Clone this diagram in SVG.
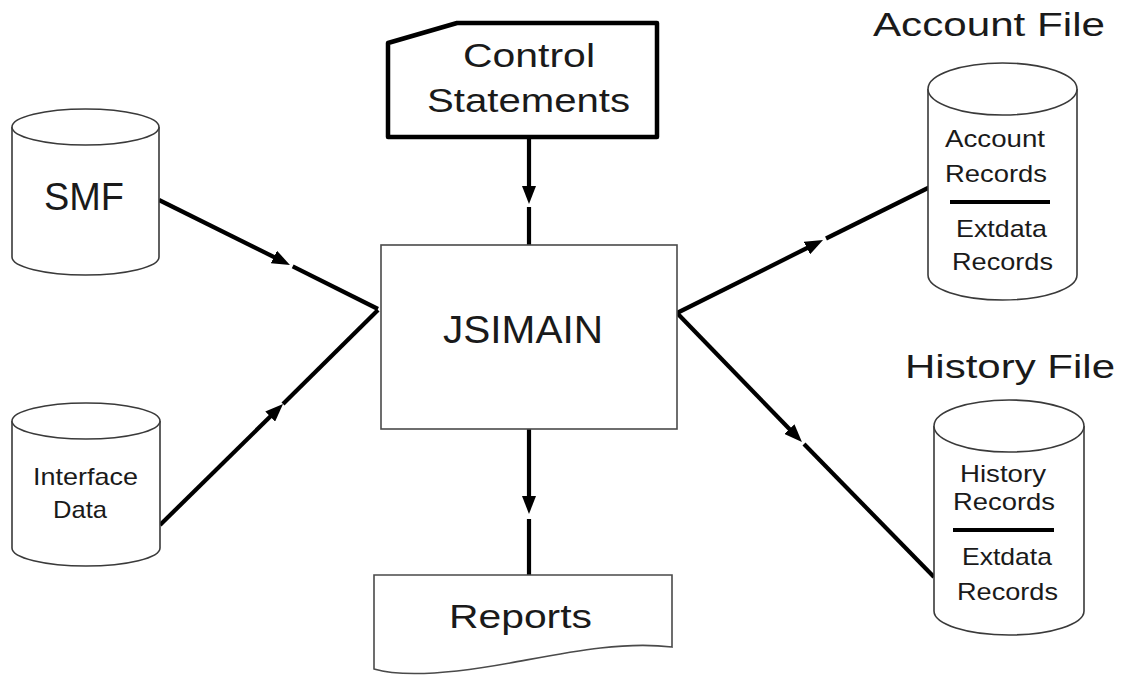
<svg xmlns="http://www.w3.org/2000/svg" width="1130" height="677" viewBox="0 0 1130 677">
  <defs>
    <style>
      .cyl { fill: #ffffff; stroke: #3a3a3a; stroke-width: 1.6; }
      .box { fill: #ffffff; stroke: #4a4a4a; stroke-width: 1.6; }
      .card { fill: #ffffff; stroke: #000000; stroke-width: 4.5; stroke-linejoin: round; }
      .conn { fill: none; stroke: #000000; stroke-width: 4.2; stroke-linecap: butt; }
      .rule { stroke: #000000; stroke-width: 4; }
      text { font-family: "Liberation Sans", Arial, sans-serif; fill: #1a1a1a; text-anchor: middle; }
      .big { font-size: 38px; }
      .mid { font-size: 34px; }
      .sm { font-size: 24px; }
    </style>
    <marker id="arrow" viewBox="0 0 18 14" markerWidth="18" markerHeight="14" refX="8" refY="7" markerUnits="userSpaceOnUse" orient="auto">
      <path d="M0,0 L18,7 L0,14 z" fill="#000000"/>
    </marker>
  </defs>

  <rect width="1130" height="677" fill="#ffffff"/>

  <!-- connectors: each is a lead line ending in an arrowhead, then a short gap and the tail into the target -->
  <g id="connectors">
    <!-- SMF -> JSIMAIN -->
    <line class="conn" x1="159" y1="200" x2="281" y2="260.5" marker-end="url(#arrow)"/>
    <line class="conn" x1="292.7" y1="266.3" x2="378" y2="309"/>
    <!-- Interface Data -> JSIMAIN -->
    <line class="conn" x1="160" y1="525" x2="275.9" y2="411" marker-end="url(#arrow)"/>
    <line class="conn" x1="283" y1="404" x2="378" y2="310"/>
    <!-- Control Statements -> JSIMAIN -->
    <line class="conn" x1="529" y1="137" x2="529" y2="194" marker-end="url(#arrow)"/>
    <line class="conn" x1="529" y1="207" x2="529" y2="245"/>
    <!-- JSIMAIN -> Reports -->
    <line class="conn" x1="529" y1="429" x2="529" y2="504" marker-end="url(#arrow)"/>
    <line class="conn" x1="529" y1="519" x2="529" y2="575"/>
    <!-- JSIMAIN -> Account File -->
    <line class="conn" x1="677" y1="313" x2="814.1" y2="244.5" marker-end="url(#arrow)"/>
    <line class="conn" x1="826" y1="238.5" x2="930" y2="187"/>
    <!-- JSIMAIN -> History File -->
    <line class="conn" x1="677" y1="313" x2="795" y2="434.8" marker-end="url(#arrow)"/>
    <line class="conn" x1="804" y1="444" x2="934" y2="577"/>
  </g>

  <!-- SMF data set -->
  <g id="smf">
    <path class="cyl" d="M12,127 V257 A73.5,18 0 0 0 159,257 V127"/>
    <ellipse class="cyl" cx="85.5" cy="127" rx="73.5" ry="18"/>
    <text class="big" x="84" y="210" textLength="80" lengthAdjust="spacingAndGlyphs">SMF</text>
  </g>

  <!-- Interface data set -->
  <g id="interface-data">
    <path class="cyl" d="M12,421 V548 A74,18 0 0 0 160,548 V421"/>
    <ellipse class="cyl" cx="86" cy="421" rx="74" ry="18"/>
    <text class="sm" x="85.5" y="485" textLength="105" lengthAdjust="spacingAndGlyphs">Interface</text>
    <text class="sm" x="80" y="518" textLength="54" lengthAdjust="spacingAndGlyphs">Data</text>
  </g>

  <!-- Control statements (punched card) -->
  <g id="control-statements">
    <path class="card" d="M388,43 L457,23 H657 V137 H388 Z"/>
    <text class="mid" x="529" y="67" textLength="132" lengthAdjust="spacingAndGlyphs">Control</text>
    <text class="mid" x="528.5" y="112" textLength="203" lengthAdjust="spacingAndGlyphs">Statements</text>
  </g>

  <!-- Main program -->
  <g id="jsimain">
    <rect class="box" x="381" y="245" width="296" height="184"/>
    <text class="big" x="523" y="343" textLength="160" lengthAdjust="spacingAndGlyphs">JSIMAIN</text>
  </g>

  <!-- Reports (document) -->
  <g id="reports">
    <path class="box" d="M374,575 H672 V647 C620,641 565,653 510,663 C455,673 405,678 374,669 Z"/>
    <text class="mid" x="520.5" y="628" textLength="143" lengthAdjust="spacingAndGlyphs">Reports</text>
  </g>

  <!-- Account file -->
  <g id="account-file">
    <text class="mid" x="989" y="36" textLength="232" lengthAdjust="spacingAndGlyphs">Account File</text>
    <path class="cyl" d="M928,89 V275 A74.5,25 0 0 0 1077,275 V89"/>
    <ellipse class="cyl" cx="1002.5" cy="89" rx="74.5" ry="26"/>
    <text class="sm" x="995" y="147" textLength="100" lengthAdjust="spacingAndGlyphs">Account</text>
    <text class="sm" x="996" y="182" textLength="102" lengthAdjust="spacingAndGlyphs">Records</text>
    <line class="rule" x1="950" y1="202" x2="1050" y2="202"/>
    <text class="sm" x="1001.5" y="237" textLength="91" lengthAdjust="spacingAndGlyphs">Extdata</text>
    <text class="sm" x="1002.5" y="270" textLength="101" lengthAdjust="spacingAndGlyphs">Records</text>
  </g>

  <!-- History file -->
  <g id="history-file">
    <text class="mid" x="1010" y="378" textLength="210" lengthAdjust="spacingAndGlyphs">History File</text>
    <path class="cyl" d="M934,426 V611 A75,24 0 0 0 1084,611 V426"/>
    <ellipse class="cyl" cx="1009" cy="426" rx="75" ry="26"/>
    <text class="sm" x="1003" y="482" textLength="86" lengthAdjust="spacingAndGlyphs">History</text>
    <text class="sm" x="1004" y="510" textLength="102" lengthAdjust="spacingAndGlyphs">Records</text>
    <line class="rule" x1="953" y1="530" x2="1054" y2="530"/>
    <text class="sm" x="1007" y="565" textLength="90" lengthAdjust="spacingAndGlyphs">Extdata</text>
    <text class="sm" x="1007.5" y="600" textLength="101" lengthAdjust="spacingAndGlyphs">Records</text>
  </g>
</svg>
